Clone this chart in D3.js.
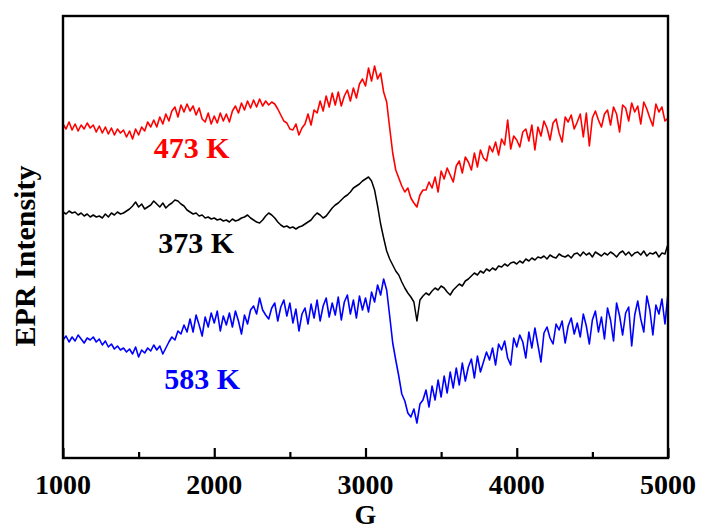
<!DOCTYPE html>
<html>
<head>
<meta charset="utf-8">
<script src="https://cdn.jsdelivr.net/npm/d3@7"></script>
<style>
  body { margin: 0; background: #fff; }
  svg text { font-family: "Liberation Serif", "Times New Roman", serif; font-weight: bold; }
</style>
</head>
<body>
<div id="chart"></div>
<script>
// DATA //
// field sweep, G (one reading every 20 G)
const fieldG = d3.range(1000, 5001, 20)

const xTicks = [1000, 2000, 3000, 4000, 5000]
const xMinorTicks = [1500, 2500, 3500, 4500]

// EPR intensity (a.u., curves already offset as in the figure)
const int473 = [
    334,329,336,328,334,327,333,329,335,330,
    333,326,332,325,331,324,330,323,329,325,
    328,321,327,319,329,323,331,327,336,331,
    338,331,341,334,344,337,347,351,341,353,
    346,354,347,352,343,350,339,336,345,334,
    342,335,345,337,344,336,347,352,345,355,
    348,357,350,358,351,359,352,357,353,356,
    354,349,343,337,335,329,328,334,323,330,
    334,344,333,348,345,357,347,362,351,365,
    353,366,352,362,368,357,370,360,374,379,
    372,390,377,392,379,385,366,356,330,305,
    288,280,272,266,270,260,255,251,263,268,
    268,276,270,281,266,287,279,290,283,276,
    292,297,285,301,296,288,305,291,308,300,
    297,312,306,316,303,319,313,338,309,322,
    318,311,326,329,317,333,308,331,322,337,
    330,318,335,339,325,316,341,336,343,329,
    336,344,321,345,312,340,347,338,331,344,
    348,333,351,344,326,353,350,337,355,346,
    352,334,356,349,340,332,354,346,351,337,
    340
]

const int373 = [
    246,244,247,245,246,243,245,242,244,241,
    243,241,242,240,244,241,245,243,246,244,
    245,247,249,252,256,251,254,249,251,253,
    257,254,251,255,250,253,255,258,257,254,
    252,248,246,244,245,242,243,240,241,239,
    240,238,239,237,238,236,239,237,238,240,
    241,243,240,238,236,235,238,242,245,243,
    240,236,233,231,232,230,231,229,231,232,
    234,236,238,242,245,243,240,242,246,250,
    253,255,258,261,263,266,270,272,274,277,
    279,281,277,268,252,234,220,207,199,193,
    187,183,176,170,165,161,156,137,158,162,
    165,163,167,170,168,172,170,166,163,168,
    171,174,172,177,179,182,185,183,187,185,
    189,187,190,188,192,191,194,192,195,196,
    194,197,195,199,197,200,198,201,200,202,
    199,203,201,200,204,202,201,203,200,204,
    205,202,206,203,205,201,206,204,202,205,
    203,206,204,201,205,207,203,206,202,205,
    206,203,207,202,205,204,206,201,205,204,
    214
]

const int583 = [
    118,122,116,121,117,123,119,115,120,118,
    121,116,119,113,117,111,114,109,112,108,
    110,106,109,104,111,101,108,105,110,107,
    113,108,112,104,110,116,121,118,127,124,
    133,126,139,126,143,133,122,141,131,145,
    135,147,127,142,133,145,131,147,137,124,
    143,134,148,152,144,160,148,143,139,150,
    155,137,151,158,142,155,135,149,127,144,
    150,134,154,140,158,137,152,160,141,155,
    143,161,138,156,163,144,158,140,162,148,
    160,146,166,156,173,163,179,168,142,115,
    98,82,64,57,45,41,49,35,54,58,
    68,51,72,58,78,61,82,65,86,70,
    90,73,95,77,91,99,80,102,86,96,
    106,98,110,93,114,108,117,100,93,120,
    111,123,116,100,126,110,130,113,96,125,
    131,120,114,134,128,137,115,132,140,124,
    135,121,144,132,114,138,147,126,141,119,
    150,138,117,155,142,123,145,151,112,143,
    157,139,126,162,148,123,153,144,159,134,
    165
]

const seriesNames = ["473 K", "373 K", "583 K"]
const seriesColors = ["#ff0000", "#000000", "#0000ff"]
const seriesValues = [int473, int373, int583]
// where each temperature label sits (G, intensity)
const labelG = [1600, 1630, 1670]
const labelInt = [300, 205, 69]

// GLOBAL VARIABLES //
let dimensions = {
    width: 701,
    height: 530,
    margin: { top: 16, right: 33, bottom: 72, left: 63 },
}
dimensions.boundedWidth = dimensions.width - dimensions.margin.left - dimensions.margin.right
dimensions.boundedHeight = dimensions.height - dimensions.margin.top - dimensions.margin.bottom

const xScale = d3.scaleLinear()
    .domain([1000, 5000])
    .range([0, dimensions.boundedWidth])

const yScale = d3.scaleLinear()
    .domain([0, 442])
    .range([dimensions.boundedHeight, 0])

const svg = d3.select("#chart")
    .append("svg")
    .attr("width", dimensions.width)
    .attr("height", dimensions.height)

const bounds = svg.append("g")
    .attr("transform", `translate(${dimensions.margin.left},${dimensions.margin.top})`)

// curves
const lineGen = d3.line()
    .x(d => xScale(d[0]))
    .y(d => yScale(d[1]))

seriesValues.forEach((vals, i) => {
    const pts = fieldG.map((g, j) => [g, vals[j]]).filter(d => d[1] !== undefined)
    bounds.append("path")
        .datum(pts)
        .attr("fill", "none")
        .attr("stroke", seriesColors[i])
        .attr("stroke-width", i == 1 ? 1.5 : 1.6)
        .attr("stroke-linejoin", "round")
        .attr("d", lineGen)

    bounds.append("text")
        .attr("x", xScale(labelG[i]))
        .attr("y", yScale(labelInt[i]))
        .attr("fill", seriesColors[i])
        .style("font-size", "30px")
        .text(seriesNames[i])
})

// frame
bounds.append("rect")
    .attr("x", 0)
    .attr("y", 0)
    .attr("width", dimensions.boundedWidth)
    .attr("height", dimensions.boundedHeight)
    .attr("fill", "none")
    .attr("stroke", "#000")
    .attr("stroke-width", 2.4)

// x axis, ticks pointing inward
const xAxis = bounds.append("g")
    .attr("transform", `translate(0,${dimensions.boundedHeight})`)
    .call(d3.axisTop(xScale).tickValues(xTicks).tickSize(10).tickFormat(""))
xAxis.select(".domain").remove()
xAxis.selectAll("line").attr("stroke-width", 2.2)

const xMinor = bounds.append("g")
    .attr("transform", `translate(0,${dimensions.boundedHeight})`)
    .call(d3.axisTop(xScale).tickValues(xMinorTicks).tickSize(6).tickFormat(""))
xMinor.select(".domain").remove()
xMinor.selectAll("line").attr("stroke-width", 2.2)

bounds.selectAll(".x-label")
    .data(xTicks)
    .join("text")
    .attr("class", "x-label")
    .attr("x", d => xScale(d))
    .attr("y", dimensions.boundedHeight + 36)
    .attr("text-anchor", "middle")
    .style("font-size", "28px")
    .text(d => d)

bounds.append("text")
    .attr("x", xScale(3000))
    .attr("y", dimensions.boundedHeight + 66)
    .attr("text-anchor", "middle")
    .style("font-size", "28px")
    .text("G")

svg.append("text")
    .attr("transform", `translate(35,256) rotate(-90)`)
    .attr("text-anchor", "middle")
    .style("font-size", "30px")
    .text("EPR Intensity")
</script>
</body>
</html>
